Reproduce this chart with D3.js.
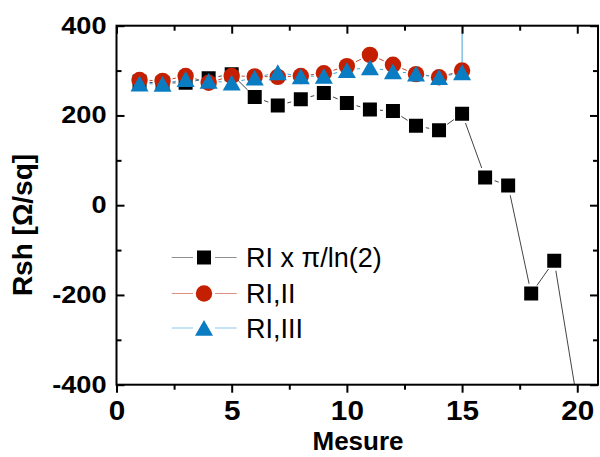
<!DOCTYPE html>
<html><head><meta charset="utf-8">
<script src="https://cdn.jsdelivr.net/npm/d3@7"></script>
<style>body{margin:0;background:#fff}svg{display:block}</style>
</head><body>
<svg id="c" width="600" height="457"></svg>
<script>
// ---- data ----
const mesureBlack = [1,2,3,4,5,6,7,8,9,10,11,12,13,14,15,16,17,18,19,20];
const rhoPiLn2    = [275,272,273,283,292,241,222,236,250,228,213,210,177,167,204,62,44,-197,-124,-438];
const mesureRed   = [1,2,3,4,5,6,7,8,9,10,11,12,13,14,15];
const rhoII       = [279,277,288,273,288,287,286,288,294,310,335,313,292,285,300];
const mesureBlue  = [1,2,3,4,5,6,7,8,9,10,11,12,13,14,15,16];
const rhoIII      = [271,270,281,277,273,284,296,287,288,301,307,298,293,285,296,100000];
const seriesNames = ["RI x \u03C0/ln(2)", "RI,II", "RI,III"];
const xMajor = [0,5,10,15,20];
const xMinor = [2.5,7.5,12.5,17.5];
const yMajor = [-400,-200,0,200,400];
const yMinor = [-300,-100,100,300];

const svg = d3.select("#c");
const x = d3.scaleLinear().domain([0,20.9]).range([116.5,598]);
const y = d3.scaleLinear().domain([-400,400]).range([384.7,25.7]);
const fmt = d => String(d);

svg.append("clipPath").attr("id","clip").append("rect")
  .attr("x",x(0)).attr("y",y(400)).attr("width",x(20.9)-x(0)).attr("height",y(-400)-y(400));

const styles = [
  {line:"#444", fill:"#000", shape:"square", gap:10},
  {line:"#c8462e", fill:"#c41f00", shape:"circle", gap:10},
  {line:"#3fa3dc", fill:"#0a7dc2", shape:"triangle", gap:10}
];
const allSeries = [
  {xs:mesureBlack, ys:rhoPiLn2, st:styles[0]},
  {xs:mesureRed, ys:rhoII, st:styles[1]},
  {xs:mesureBlue, ys:rhoIII, st:styles[2]}
];

function markerPath(shape){
  if(shape==="square") return "M-7,-7H7V7H-7Z";
  if(shape==="circle") return "M-8.2,0A8.2,8.2 0 1,0 8.2,0A8.2,8.2 0 1,0 -8.2,0Z";
  return "M0,-8L9,7.8L-9,7.8Z";
}

const plot = svg.append("g").attr("clip-path","url(#clip)");
allSeries.forEach(s=>{
  const pts = s.xs.map((d,i)=>[x(d), y(s.ys[i])]);
  const g = plot.append("g");
  for(let i=0;i<pts.length-1;i++){
    const [x1,y1]=pts[i],[x2,y2]=pts[i+1];
    const dx=x2-x1, dy=y2-y1, L=Math.hypot(dx,dy);
    const gap=s.st.gap;
    if(L<=2*gap) continue;
    const ux=dx/L, uy=dy/L;
    g.append("path")
      .attr("d", d3.line()([[x1+ux*gap,y1+uy*gap],[x2-ux*gap,y2-uy*gap]]))
      .attr("stroke", s.st.line).attr("stroke-width",1).attr("fill","none");
  }
  plot.append("g").selectAll("path").data(pts).join("path")
    .attr("transform",d=>`translate(${d[0]},${d[1]})`)
    .attr("d", markerPath(s.st.shape))
    .attr("fill", s.st.fill);
});

// ---- axes ----
const tickFont = "'Liberation Sans', Arial, sans-serif";
function clean(g){ g.select(".domain").remove(); g.selectAll("line").attr("stroke","#000").attr("stroke-width",2); }

// bottom (outward ticks)
const gb = svg.append("g").attr("transform",`translate(0,${y(-400)})`)
  .call(d3.axisBottom(x).tickValues(xMajor).tickSize(8).tickPadding(8).tickFormat(fmt));
clean(gb);
gb.selectAll("text").attr("font-family",tickFont).attr("font-size",27).attr("font-weight","bold").attr("fill","#000");
svg.append("g").attr("transform",`translate(0,${y(-400)})`)
  .call(d3.axisBottom(x).tickValues(xMinor).tickSize(5).tickFormat("")).call(clean);
// top (inward)
svg.append("g").attr("transform",`translate(0,${y(400)})`)
  .call(d3.axisBottom(x).tickValues(xMajor).tickSize(8).tickFormat("")).call(clean);
svg.append("g").attr("transform",`translate(0,${y(400)})`)
  .call(d3.axisBottom(x).tickValues(xMinor).tickSize(5).tickFormat("")).call(clean);
// left labels
const gl = svg.append("g").attr("transform",`translate(${x(0)},0)`)
  .call(d3.axisLeft(y).tickValues(yMajor).tickSize(0).tickPadding(10).tickFormat(fmt));
gl.select(".domain").remove();
gl.selectAll("text").attr("font-family",tickFont).attr("font-size",23).attr("font-weight","bold").attr("fill","#000");
// left ticks inward
svg.append("g").attr("transform",`translate(${x(0)},0)`)
  .call(d3.axisRight(y).tickValues(yMajor).tickSize(8).tickFormat("")).call(clean);
svg.append("g").attr("transform",`translate(${x(0)},0)`)
  .call(d3.axisRight(y).tickValues(yMinor).tickSize(5).tickFormat("")).call(clean);
// right ticks inward
svg.append("g").attr("transform",`translate(${x(20.9)},0)`)
  .call(d3.axisLeft(y).tickValues(yMajor).tickSize(8).tickFormat("")).call(clean);
svg.append("g").attr("transform",`translate(${x(20.9)},0)`)
  .call(d3.axisLeft(y).tickValues(yMinor).tickSize(5).tickFormat("")).call(clean);

// stretch tick labels horizontally
gl.selectAll("text").each(function(){ const w=this.getComputedTextLength(); d3.select(this).attr("textLength",w*1.18).attr("lengthAdjust","spacingAndGlyphs"); });
gb.selectAll("text").each(function(){ const w=this.getComputedTextLength(); d3.select(this).attr("textLength",w*1.1).attr("lengthAdjust","spacingAndGlyphs"); });

// frame
svg.append("rect").attr("x",x(0)).attr("y",y(400)).attr("width",x(20.9)-x(0)).attr("height",y(-400)-y(400))
  .attr("fill","none").attr("stroke","#000").attr("stroke-width",2);

// axis titles
svg.append("text").attr("x",358).attr("y",450).attr("text-anchor","middle")
  .attr("font-family",tickFont).attr("font-size",26).attr("font-weight","bold").text("Mesure");
svg.append("text").attr("transform","translate(32,225) rotate(-90)").attr("text-anchor","middle")
  .attr("font-family",tickFont).attr("font-size",28).attr("font-weight","bold").text("Rsh [\u03A9/sq]");

// legend
const legY = [257.5, 293.5, 328];
const leg = svg.append("g");
styles.forEach((st,i)=>{
  const gy = legY[i];
  leg.append("line").attr("x1",171.7).attr("x2",193).attr("y1",gy).attr("y2",gy).attr("stroke",st.line).attr("stroke-opacity",0.6).attr("stroke-width",1);
  leg.append("line").attr("x1",215).attr("x2",236.7).attr("y1",gy).attr("y2",gy).attr("stroke",st.line).attr("stroke-opacity",0.6).attr("stroke-width",1);
  leg.append("path").attr("transform",`translate(204,${gy})`).attr("d",markerPath(st.shape)).attr("fill",st.fill);
  leg.append("text").attr("x",246).attr("y",gy+9.5).attr("font-family",tickFont).attr("font-size",27)
    .attr("fill","#000").text(seriesNames[i]);
});
</script>
</body></html>
